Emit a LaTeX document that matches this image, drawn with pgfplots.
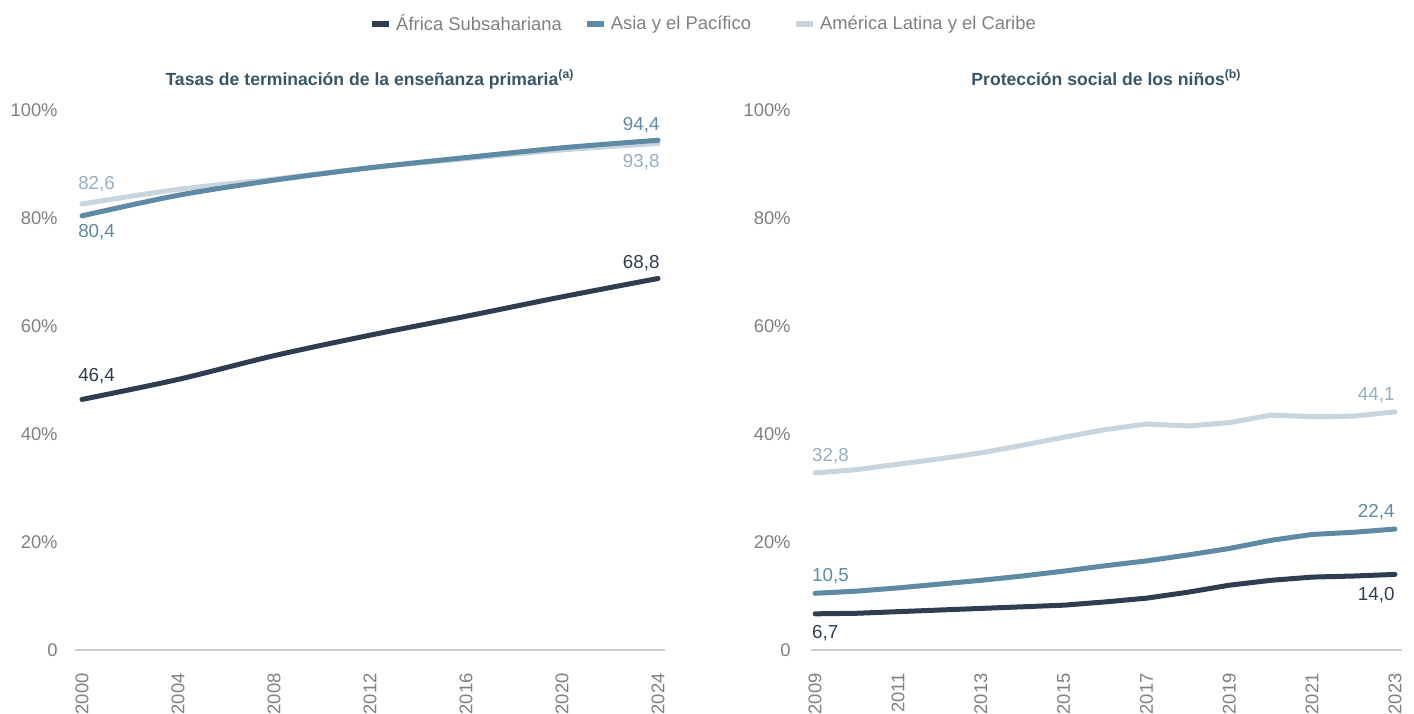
\documentclass[border=0pt]{standalone}
\usepackage{fontspec}
\setmainfont{Liberation Sans}
\usepackage{pgfplots}
\pgfplotsset{compat=1.18}

\definecolor{cAfr}{RGB}{46,62,80}
\definecolor{cAsia}{RGB}{94,138,165}
\definecolor{cLat}{RGB}{200,212,222}
\definecolor{cLatL}{RGB}{150,175,196}
\definecolor{cTick}{RGB}{128,128,128}
\definecolor{cBase}{RGB}{205,205,205}
\definecolor{cTitle}{RGB}{58,85,106}

\pgfplotsset{
  panel/.style={
    scale only axis, height=270pt, ymin=0, ymax=100,
    axis lines=left, axis line style={-},
    y axis line style={draw=none},
    x axis line style={draw=cBase, line width=0.6pt},
    major tick length=0pt,
    ytick={0,20,40,60,80,100},
    yticklabels={0,20\%,40\%,60\%,80\%,100\%},
    tick label style={font=\fontsize{9.2}{10}\selectfont, text=cTick},
    xticklabel style={rotate=90, anchor=east, inner ysep=0pt, inner xsep=11.5pt},
    clip=false,
    title style={font=\bfseries\fontsize{8.8}{10}\selectfont, text=cTitle,
      at={(0.5,1)}, anchor=base, yshift=6pt},
    every axis plot/.append style={line width=2.5pt, line cap=round, line join=round},
  },
}
\tikzset{lbl/.style={inner sep=0pt, font=\fontsize{9.4}{10}\selectfont}}

\begin{document}
\begin{tikzpicture}
\path[use as bounding box] (0,0) rectangle (707pt,356.5pt);

% panel a
\begin{axis}[panel, at={(37.5pt,31.5pt)}, anchor=south west, width=295pt,
  xmin=1999.71, xmax=2024.29,
  xtick={2000,2004,...,2024},
  xticklabels={2000,2004,2008,2012,2016,2020,2024},
  yticklabel style={anchor=east, inner xsep=0pt, xshift=-8.5pt},
  title={Tasas de terminación de la enseñanza primaria\textsuperscript{(a)}},
  reverse legend,
  legend style={at={(1.067,1.159)}, anchor=center, draw=none, fill=none,
    legend columns=3, font=\fontsize{9.2}{10}\selectfont, text=cTick,
    /tikz/column 2/.style={column sep=9pt},
    /tikz/column 4/.style={column sep=19pt}},
  legend image code/.code={\draw[line width=3pt, line cap=butt] (0pt,0pt) -- (8.5pt,0pt);},
]
\addplot[cLat, smooth] coordinates {
  (2000,82.6) (2004,85.3) (2008,87.2) (2012,89.3) (2016,91.0) (2020,92.6) (2024,93.8)};
\addlegendentry{América Latina y el Caribe}
\addplot[cAsia, smooth] coordinates {
  (2000,80.4) (2004,84.2) (2008,87.0) (2012,89.3) (2016,91.2) (2020,93.0) (2024,94.4)};
\addlegendentry{Asia y el Pacífico}
\addplot[cAfr, smooth] coordinates {
  (2000,46.4) (2004,50.1) (2008,54.5) (2012,58.3) (2016,61.8) (2020,65.4) (2024,68.8)};
\addlegendentry{África Subsahariana}

\node[lbl, anchor=west, text=cLatL] at (1999.83,86.3) {82,6};
\node[lbl, anchor=west, text=cAsia] at (1999.83,77.4) {80,4};
\node[lbl, anchor=west, text=cAfr]  at (1999.83,50.7) {46,4};
\node[lbl, anchor=east, text=cAsia] at (2024.08,97.2) {94,4};
\node[lbl, anchor=east, text=cLatL] at (2024.08,90.4) {93,8};
\node[lbl, anchor=east, text=cAfr]  at (2024.08,71.7) {68,8};
\end{axis}

% panel b
\begin{axis}[panel, at={(405.5pt,31.5pt)}, anchor=south west, width=295.5pt,
  xmin=2008.90, xmax=2023.17,
  xtick={2009,2011,...,2023},
  xticklabels={2009,2011,2013,2015,2017,2019,2021,2023},
  yticklabel style={anchor=east, inner xsep=0pt, xshift=-10pt},
  title={Protección social de los niños\textsuperscript{(b)}},
]
\addplot[cLat] coordinates {
  (2009,32.8) (2010,33.4) (2011,34.4) (2012,35.4) (2013,36.5) (2014,37.9)
  (2015,39.4) (2016,40.8) (2017,41.85) (2018,41.5) (2019,42.1) (2020,43.5)
  (2021,43.2) (2022,43.3) (2023,44.1)};
\addplot[cAsia] coordinates {
  (2009,10.5) (2010,10.9) (2011,11.5) (2012,12.2) (2013,12.9) (2014,13.7)
  (2015,14.6) (2016,15.6) (2017,16.5) (2018,17.6) (2019,18.8) (2020,20.3)
  (2021,21.4) (2022,21.8) (2023,22.4)};
\addplot[cAfr] coordinates {
  (2009,6.7) (2010,6.8) (2011,7.1) (2012,7.4) (2013,7.7) (2014,8.0)
  (2015,8.3) (2016,8.9) (2017,9.6) (2018,10.7) (2019,12.0) (2020,12.9)
  (2021,13.5) (2022,13.7) (2023,14.0)};

\node[lbl, anchor=west, text=cLatL] at (2008.92,35.9) {32,8};
\node[lbl, anchor=west, text=cAsia] at (2008.92,13.7) {10,5};
\node[lbl, anchor=west, text=cAfr]  at (2008.92,3.1) {6,7};
\node[lbl, anchor=east, text=cLatL] at (2023.0,47.2) {44,1};
\node[lbl, anchor=east, text=cAsia] at (2023.0,25.6) {22,4};
\node[lbl, anchor=east, text=cAfr]  at (2023.0,10.2) {14,0};
\end{axis}
\end{tikzpicture}
\end{document}
